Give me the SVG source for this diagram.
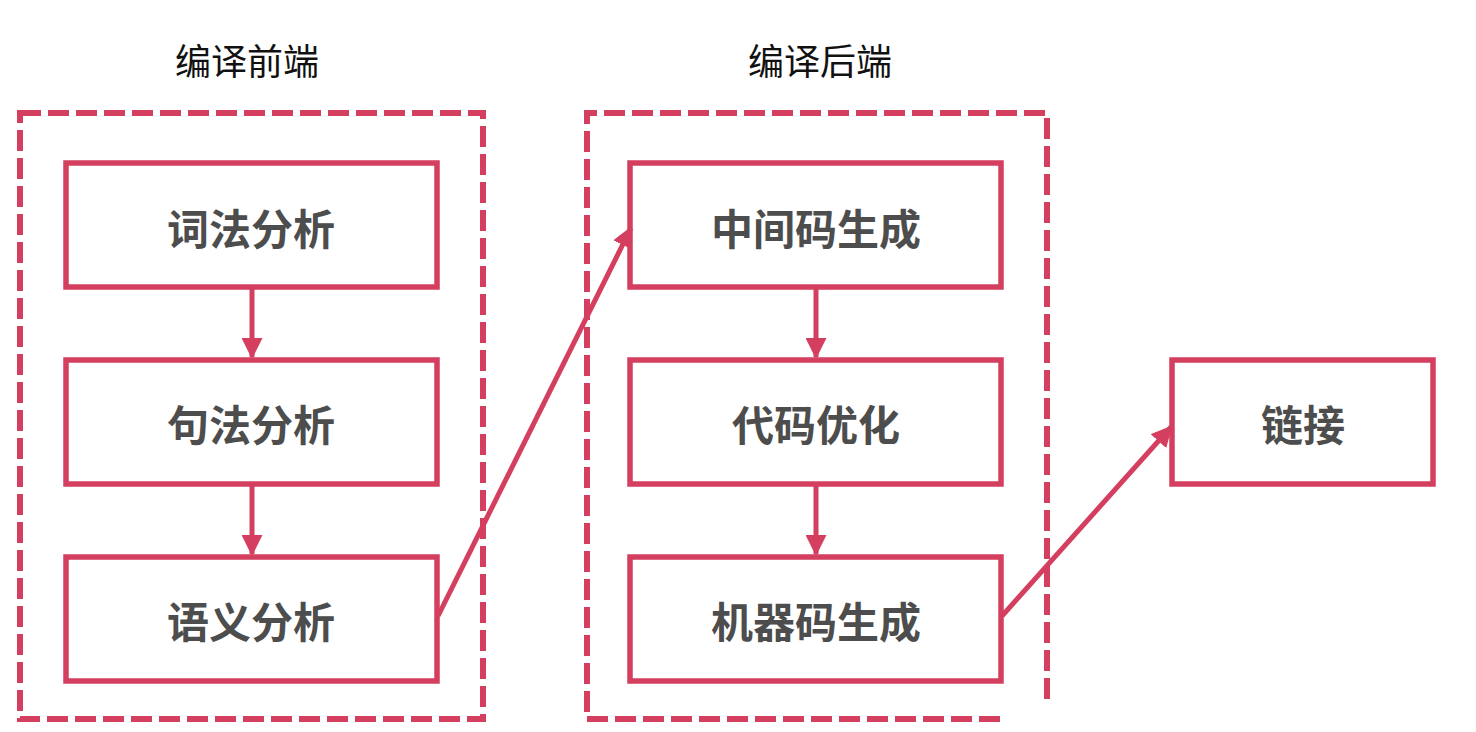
<svg xmlns="http://www.w3.org/2000/svg" width="1476" height="732" viewBox="0 0 1476 732">
<defs>
<style>
.grp{fill:none;stroke:#d43f5f;stroke-width:6;stroke-dasharray:21 7}
.box{fill:#fff;stroke:#d43f5f;stroke-width:5.5}
.lbl{font-family:"Noto Sans CJK SC","Noto Sans",sans-serif;font-weight:bold;font-size:42px;fill:#4d4d4d;text-anchor:middle;dominant-baseline:central}
.ttl{font-family:"Noto Sans CJK SC","Noto Sans",sans-serif;font-size:36px;fill:#111;text-anchor:middle;dominant-baseline:central}
.con{fill:none;stroke:#d43f5f;stroke-width:5}
</style>
<marker id="ah" viewBox="0 0 10 10" refX="9" refY="5" markerWidth="4.2" markerHeight="4.2" orient="auto" markerUnits="strokeWidth">
<path d="M0,0 L10,5 L0,10 z" fill="#d43f5f"/>
</marker>
</defs>
<rect width="1476" height="732" fill="#fff"/>
<g id="group-frontend">
<text class="ttl" x="247" y="59">编译前端</text>
<rect class="grp" x="20" y="113" width="463" height="606"/>
</g>
<g id="group-backend">
<text class="ttl" x="820" y="59">编译后端</text>
<path class="grp" d="M1000,719 L587,719 L587,113 L1047,113 L1047,702"/>
</g>
<g id="n1"><rect class="box" x="66" y="163" width="371" height="124"/><text class="lbl" x="251" y="226">词法分析</text></g>
<g id="n2"><rect class="box" x="66" y="360" width="371" height="124"/><text class="lbl" x="251" y="422">句法分析</text></g>
<g id="n3"><rect class="box" x="66" y="557" width="371" height="124"/><text class="lbl" x="251" y="619">语义分析</text></g>
<g id="n4"><rect class="box" x="630" y="163" width="371" height="124"/><text class="lbl" x="816" y="226">中间码生成</text></g>
<g id="n5"><rect class="box" x="630" y="360" width="371" height="124"/><text class="lbl" x="816" y="422">代码优化</text></g>
<g id="n6"><rect class="box" x="630" y="557" width="371" height="124"/><text class="lbl" x="816" y="619">机器码生成</text></g>
<g id="n7"><rect class="box" x="1172" y="360" width="261" height="124"/><text class="lbl" x="1303" y="422">链接</text></g>
<g id="connectors">
<line class="con" x1="252" y1="288" x2="252" y2="357" marker-end="url(#ah)"/>
<line class="con" x1="252" y1="485" x2="252" y2="554" marker-end="url(#ah)"/>
<line class="con" x1="816" y1="288" x2="816" y2="357" marker-end="url(#ah)"/>
<line class="con" x1="816" y1="485" x2="816" y2="554" marker-end="url(#ah)"/>
<line class="con" x1="438" y1="616" x2="631" y2="228" marker-end="url(#ah)"/>
<line class="con" x1="1002" y1="616" x2="1171" y2="427" marker-end="url(#ah)"/>
</g>
</svg>
